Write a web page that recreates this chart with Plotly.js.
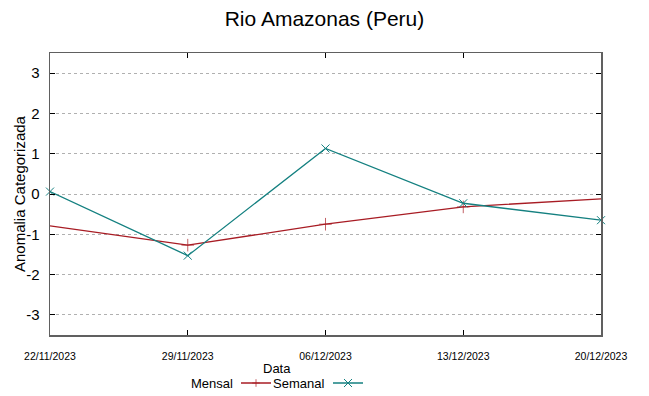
<!DOCTYPE html>
<html>
<head>
<meta charset="utf-8">
<script src="https://cdn.plot.ly/plotly-3.0.1.min.js"></script>
<style>html,body{margin:0;padding:0;background:#fff;}#chart{width:649px;height:396px;}</style>
</head>
<body>
<div id="chart"></div>
<script>
const dates = ["2023-11-22", "2023-11-29", "2023-12-06", "2023-12-13", "2023-12-20"];
const tickLabels = ["22/11/2023", "29/11/2023", "06/12/2023", "13/12/2023", "20/12/2023"];
const mensal = [-0.79, -1.27, -0.75, -0.32, -0.12];
const semanal = [0.06, -1.53, 1.13, -0.23, -0.65];
const yTicks = [-3, -2, -1, 0, 1, 2, 3];
const yTickLabels = ["-3", "-2", "-1", "0", "1", "2", "3"];

const RED = "#a81c24";
const TEAL = "#148080";
const SANS = "'Liberation Sans', Arial, sans-serif";

const traces = [
  {
    x: dates, y: mensal, type: "scatter", mode: "lines+markers", name: " ",
    line: {color: RED, width: 1.3},
    marker: {symbol: "cross-thin-open", size: [0, 9, 9, 9, 0], line: {color: RED, width: 1}},
    legend: "legend", cliponaxis: true
  },
  {
    x: dates, y: semanal, type: "scatter", mode: "lines+markers", name: " ",
    line: {color: TEAL, width: 1.3},
    marker: {symbol: "x-thin-open", size: 8, line: {color: TEAL, width: 1}},
    legend: "legend2", cliponaxis: false
  }
];

const layout = {
  width: 649, height: 396,
  margin: {l: 50, r: 48, t: 53, b: 61, autoexpand: false},
  paper_bgcolor: "#fff", plot_bgcolor: "#fff",
  title: {text: "Rio Amazonas (Peru)", x: 0.5, xanchor: "center", y: 0.952, yanchor: "middle",
          font: {family: SANS, size: 21, color: "#000"}},
  xaxis: {
    type: "date", range: [dates[0], dates[dates.length - 1]], automargin: false,
    tickvals: dates, ticktext: tickLabels, ticks: "inside", ticklen: 5, tickcolor: "#000",
    showline: true, linecolor: "#606060", linewidth: 1.5, mirror: "ticks",
    showgrid: false, zeroline: false, ticklabelstandoff: 11,
    tickfont: {family: SANS, size: 10.5, color: "#000"}
  },
  yaxis: {
    range: [-3.5, 3.5], tickvals: yTicks, ticktext: yTickLabels, automargin: false,
    ticks: "inside", ticklen: 5, tickcolor: "#000",
    showline: true, linecolor: "#606060", linewidth: 1.5, mirror: "ticks",
    showgrid: true, gridcolor: "#b0b0b0", griddash: "dot", gridwidth: 1, zeroline: false,
    ticklabelstandoff: 6,
    tickfont: {family: SANS, size: 15, color: "#000"}
  },
  showlegend: true,
  legend: {orientation: "h", x: (236 - 50) / 551, xanchor: "left", y: (335 - 383) / 282, yanchor: "middle",
           bgcolor: "rgba(0,0,0,0)", font: {size: 12}, entrywidth: 10, entrywidthmode: "pixels"},
  legend2: {orientation: "h", x: (328 - 50) / 551, xanchor: "left", y: (335 - 383) / 282, yanchor: "middle",
           bgcolor: "rgba(0,0,0,0)", font: {size: 12}, entrywidth: 10, entrywidthmode: "pixels"},
  annotations: [
    {text: "Anomalia Categorizada", xref: "paper", yref: "paper", x: (19 - 50) / 551, y: (335 - 194) / 282,
     xanchor: "center", yanchor: "middle", textangle: -90, showarrow: false,
     font: {family: SANS, size: 15, color: "#000"}},
    {text: "Data", xref: "paper", yref: "paper", x: (277 - 50) / 551, y: (335 - 368) / 282,
     xanchor: "center", yanchor: "middle", showarrow: false, font: {family: SANS, size: 13, color: "#000"}},
    {text: "Mensal", xref: "paper", yref: "paper", x: (235 - 50) / 551, y: (335 - 383) / 282,
     xanchor: "right", yanchor: "middle", showarrow: false, font: {family: SANS, size: 13, color: "#000"}},
    {text: "Semanal", xref: "paper", yref: "paper", x: (326 - 50) / 551, y: (335 - 383) / 282,
     xanchor: "right", yanchor: "middle", showarrow: false, font: {family: SANS, size: 13, color: "#000"}}
  ]
};

Plotly.newPlot("chart", traces, layout, {displayModeBar: false, staticPlot: true});
</script>
</body>
</html>
